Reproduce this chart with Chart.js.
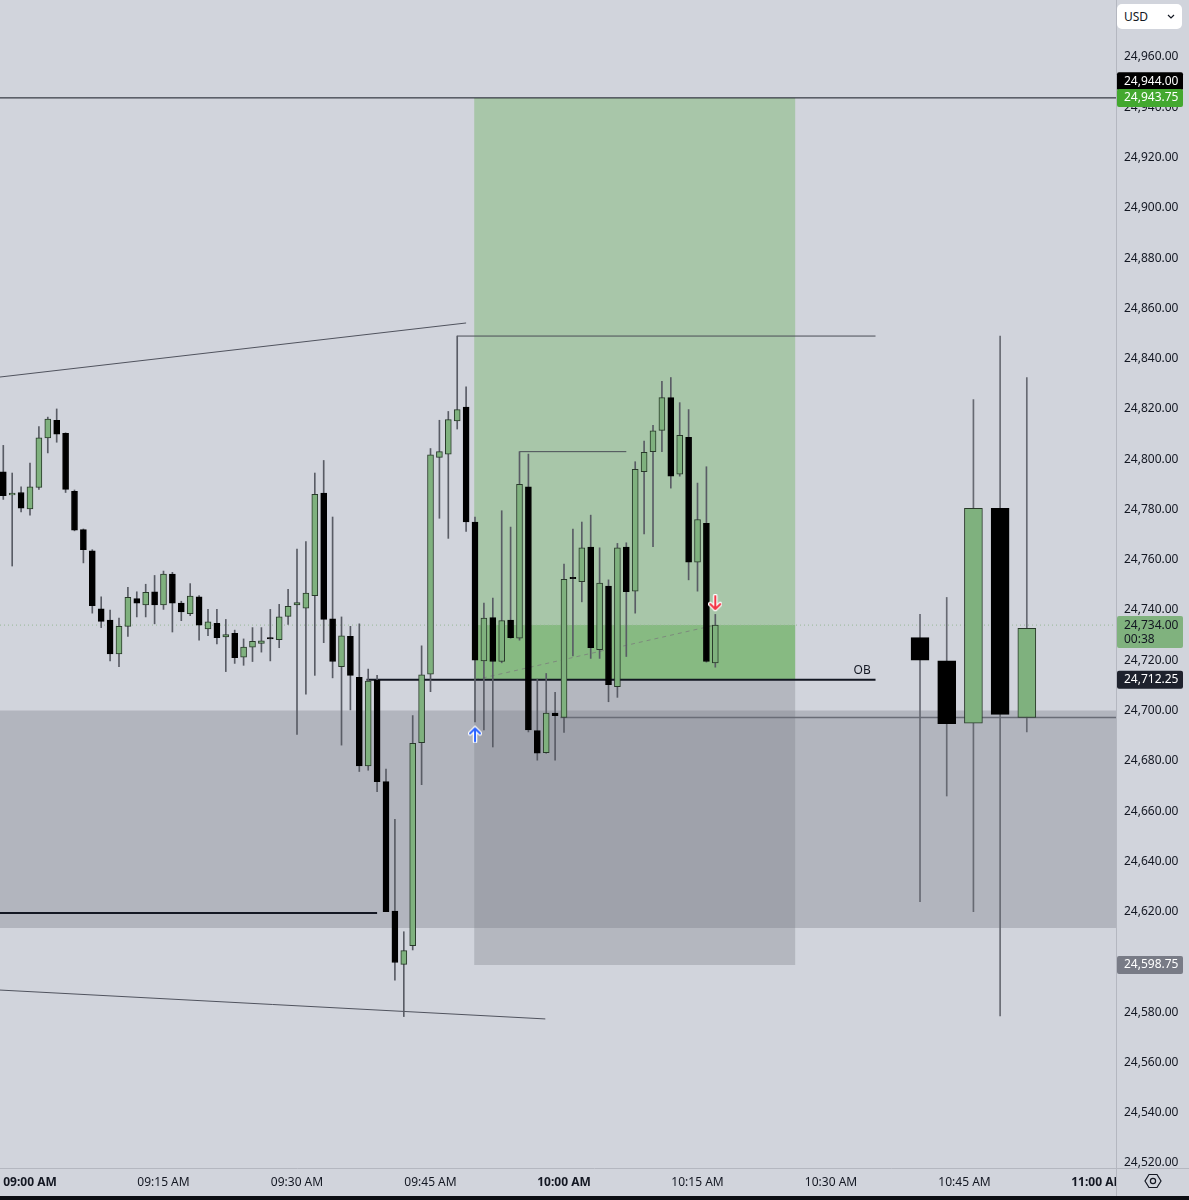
<!DOCTYPE html>
<html>
<head>
<meta charset="utf-8">
<script src="https://cdn.jsdelivr.net/npm/chart.js@4.4.1/dist/chart.umd.min.js"></script>
<style>
  html, body { margin: 0; padding: 0; background: #d1d4dc; overflow: hidden; }
  #wrap { position: relative; width: 1189px; height: 1200px; }
  #myGraph { display: block; }
  #usd { position: absolute; left: 1117px; top: 4px; width: 65px; height: 25px; background: #fff; border-radius: 5px;
         font: 12px 'Noto Sans', sans-serif; color: #131722; box-sizing: border-box; padding: 4px 0 0 7px; }
  #usd svg { position: absolute; right: 7px; top: 10px; }
  #gear { position: absolute; left: 1144px; top: 1172px; }
  #strip { position: absolute; left: 0; bottom: 0; width: 100%; height: 4px; background: #0c0e13; }
</style>
</head>
<body>
<div id="wrap">
  <canvas id="myGraph" width="1189" height="1200"></canvas>
  <div id="usd">USD<svg width="8" height="5" viewBox="0 0 8 5"><path d="M1 1 L4 4 L7 1" fill="none" stroke="#131722" stroke-width="1.2"/></svg></div>
  <svg id="gear" width="18" height="18" viewBox="0 0 18 18">
    <path d="M5 2.5 H13 L17 9 L13 15.5 H5 L1 9 Z" fill="none" stroke="#131722" stroke-width="1.2"/>
    <circle cx="9" cy="9" r="2.6" fill="none" stroke="#131722" stroke-width="1.2"/>
  </svg>
  <div id="strip"></div>
</div>
<script>
// 1 minute candles, x = minutes after 09:00
const minutes = [-3, -2, -1, 0, 1, 2, 3, 4, 5, 6, 7, 8, 9, 10, 11, 12, 13, 14, 15, 16,
  17, 18, 19, 20, 21, 22, 23, 24, 25, 26, 27, 28, 29, 30, 31, 32, 33, 34, 35, 36,
  37, 38, 39, 40, 41, 42, 43, 44, 45, 46, 47, 48, 49, 50, 51, 52, 53, 54, 55, 56,
  57, 58, 59, 60, 61, 62, 63, 64, 65, 66, 67, 68, 69, 70, 71, 72, 73, 74, 75, 76, 77];

const opens = [24795, 24785.75, 24786.75, 24780.25, 24788.75, 24808.5, 24815.5, 24810.25, 24787.25, 24772,
  24763.5, 24740.5, 24736, 24722.5, 24733.5, 24744.5, 24742, 24747.25, 24742, 24754.25,
  24742.75, 24738.5, 24745.25, 24732.5, 24734.75, 24729.25, 24730.75, 24721.25, 24725.25, 24726.75,
  24729, 24728.25, 24737.5, 24742, 24740.75, 24745.75, 24786.5, 24736.5, 24717.5, 24729.5,
  24713.25, 24678, 24712, 24671.75, 24620.25, 24599, 24606.5, 24687.25, 24714.5, 24800.75,
  24802, 24815.25, 24820.75, 24775, 24719.75, 24737, 24719.5, 24736, 24728.75, 24789,
  24692, 24683.25, 24699, 24697.25, 24753, 24751.25, 24765, 24724.25, 24749.5, 24709.5,
  24765, 24747.5, 24795, 24803, 24811.5, 24824.5, 24794, 24808.75, 24759, 24774.5, 24719];

const highs = [24805.5, 24794.5, 24789, 24798.5, 24813, 24816.75, 24820, 24810.5, 24787.75, 24772.25,
  24764, 24745.25, 24740, 24736.75, 24749, 24747.25, 24750.25, 24753.75, 24755.5, 24755,
  24743.5, 24750.5, 24745.75, 24740.25, 24740.25, 24736.25, 24732, 24728.5, 24733, 24733,
  24740.25, 24742.25, 24748.25, 24764.25, 24767.25, 24794.5, 24799.5, 24777, 24737.25, 24733.5,
  24734.5, 24716.5, 24714, 24676.75, 24656.75, 24612, 24698, 24725.75, 24804.25, 24815.5,
  24819, 24849, 24828.75, 24777, 24742.75, 24744.75, 24779.5, 24773, 24803, 24802,
  24712.5, 24714.75, 24707.25, 24758.25, 24772.25, 24775, 24777.75, 24764.75, 24752, 24766.5,
  24766.75, 24799, 24807.25, 24813.5, 24831, 24832.5, 24822.5, 24819.75, 24790.5, 24797, 24738.25];

const lows = [24784, 24757.5, 24779, 24777.75, 24788, 24802.5, 24806.75, 24786.75, 24771.5, 24758.75,
  24738.75, 24733, 24719.75, 24717.5, 24729.5, 24737.25, 24737.25, 24734.5, 24740.25, 24731.25,
  24735.75, 24737.75, 24728, 24729.75, 24726.5, 24715.5, 24718.75, 24718, 24719.5, 24723.25,
  24719.75, 24725, 24734.25, 24690.5, 24706.5, 24714, 24727, 24713, 24686.25, 24700.25,
  24675.75, 24676.25, 24667.75, 24620, 24592.75, 24578.25, 24604.75, 24670.5, 24707.5, 24776.5,
  24768.5, 24812, 24771.25, 24695.5, 24692.25, 24685.5, 24719, 24728.75, 24728, 24691.5,
  24680.25, 24683, 24680.25, 24691.25, 24721.75, 24743.25, 24720.75, 24720.75, 24703.5, 24705.25,
  24721.5, 24738.75, 24770.25, 24765.25, 24803, 24788.5, 24793.25, 24752, 24747.5, 24719.25, 24717.25];

const closes = [24785.5, 24786.5, 24780.5, 24789, 24808.5, 24816, 24810, 24788, 24771.75, 24764,
  24741.75, 24735.5, 24722.5, 24733.5, 24745, 24742.75, 24747, 24742, 24754.25, 24742.75,
  24739.25, 24745.5, 24734, 24735.25, 24729, 24730.25, 24721, 24725.25, 24727.5, 24727.75,
  24728.5, 24737.25, 24741.5, 24743, 24746.75, 24786, 24736.25, 24719.5, 24729.75, 24714,
  24678, 24711.75, 24671.75, 24620, 24599.75, 24604.5, 24687, 24714.25, 24801.75, 24803,
  24815.75, 24819.75, 24775, 24720, 24736.75, 24719.5, 24735.75, 24729, 24790, 24692.25,
  24683, 24699, 24698, 24752.25, 24752.5, 24764.75, 24725, 24750.75, 24710.25, 24764.75,
  24747.25, 24796, 24802.75, 24811.25, 24824.5, 24793.25, 24809.5, 24759, 24776, 24719.5, 24734];

// higher timeframe candles shown on the right
const htfMinutes = [100, 103, 106, 109, 112];
const htfOpens = [24729, 24719.75, 24695, 24780.5, 24697.25];
const htfHighs = [24738.25, 24745, 24823.75, 24849, 24832.5];
const htfLows = [24624, 24666, 24620, 24578.5, 24691.5];
const htfCloses = [24720, 24694.75, 24780.5, 24698.5, 24732.75];

// tick labels
const timeTicks = [0, 15, 30, 45, 60, 75, 90, 105, 120];
const timeLabels = ['09:00 AM', '09:15 AM', '09:30 AM', '09:45 AM', '10:00 AM', '10:15 AM', '10:30 AM', '10:45 AM', '11:00 AM'];
const priceTickMax = 24960;

// levels
const target = 24943.75, entry = 24712.25, stop = 24598.75, lastPrice = 24734;
const bandTop = 24700, bandBottom = 24613.5;
const positionFrom = 49.9, positionTo = 86;
const xMin = -3.37, xMax = 122.02, yMin = 24518, yMax = 24982.7;

const GREEN = '#7fb17e', BLACK = '#000000', WICK = '#595c65';

function candleColors(o, c) { return o.map((v, i) => c[i] >= v ? GREEN : BLACK); }
function borderColors(o, c) { return o.map((v, i) => c[i] >= v ? '#28392a' : BLACK); }

function arrowIcon(color, up) {
  const c = document.createElement('canvas');
  c.width = 14; c.height = 18;
  const g = c.getContext('2d');
  if (!up) { g.translate(0, 18); g.scale(1, -1); }
  const path = () => { g.beginPath(); g.moveTo(7, 16); g.lineTo(7, 3); g.moveTo(2, 8); g.lineTo(7, 3); g.lineTo(12, 8); };
  g.lineCap = 'round'; g.lineJoin = 'round';
  path(); g.strokeStyle = '#ffffff'; g.lineWidth = 4.5; g.stroke();
  path(); g.strokeStyle = color; g.lineWidth = 2; g.stroke();
  return c;
}

function seg(x1, y1, x2, y2, color, width, dash) {
  return {
    type: 'line', data: [{ x: x1, y: y1 }, { x: x2, y: y2 }],
    borderColor: color, borderWidth: width, borderDash: dash || [],
    pointRadius: 0, fill: false, order: 3
  };
}

function box(x1, x2, top, bottom, color, order) {
  return {
    type: 'line', data: [{ x: x1, y: top }, { x: x2, y: top }],
    borderWidth: 0, borderColor: 'rgba(0,0,0,0)', pointRadius: 0,
    backgroundColor: color, fill: { value: bottom }, order: order
  };
}

const priceTags = [
  { value: 24944, shift: -16, bg: '#000000', fg: '#ffffff' },
  { value: target, shift: 0, bg: '#43a82f', fg: '#ffffff' },
  { value: lastPrice, shift: 0, bg: '#80b27e', fg: '#131722', sub: '00:38' },
  { value: entry, shift: 0, bg: '#1e222d', fg: '#ffffff' },
  { value: stop, shift: 0, bg: '#787b86', fg: '#ffffff' }
];

const fmtPrice = v => v.toLocaleString('en-US', { minimumFractionDigits: 2, maximumFractionDigits: 2 });

// no extra padding around the plot, so the plot fills the canvas up to the axes
function noPad(s) { s.paddingTop = 0; s.paddingBottom = 0; s.paddingLeft = 0; s.paddingRight = 0; }

const chrome = {
  id: 'chrome',
  beforeDraw(chart) {
    const ctx = chart.ctx;
    ctx.save();
    ctx.fillStyle = '#d1d4dc';
    ctx.fillRect(0, 0, chart.width, chart.height);
    ctx.restore();
  },
  afterDatasetsDraw(chart) {
    const ctx = chart.ctx, x = chart.scales.x, y = chart.scales.y;
    ctx.save();
    ctx.font = '12px "Noto Sans", sans-serif';
    ctx.fillStyle = '#131722';
    ctx.textAlign = 'center';
    ctx.textBaseline = 'middle';
    ctx.fillText('OB', x.getPixelForValue(93.5), y.getPixelForValue(24716));
    ctx.restore();
  },
  afterDraw(chart) {
    const ctx = chart.ctx, y = chart.scales.y, a = chart.chartArea;
    ctx.save();
    // corner under the price axis
    ctx.fillStyle = '#d1d4dc';
    ctx.fillRect(a.right, a.bottom, chart.width - a.right, chart.height - a.bottom);
    ctx.strokeStyle = '#b4b7c0';
    ctx.lineWidth = 1;
    ctx.beginPath();
    ctx.moveTo(a.right + 0.5, 0); ctx.lineTo(a.right + 0.5, chart.height);
    ctx.moveTo(0, a.bottom + 0.5); ctx.lineTo(chart.width, a.bottom + 0.5);
    ctx.stroke();
    // price tags
    ctx.font = '12px "Noto Sans", sans-serif';
    ctx.textBaseline = 'middle';
    ctx.textAlign = 'left';
    priceTags.forEach(t => {
      const cy = y.getPixelForValue(t.value) + t.shift;
      const h = t.sub ? 32 : 18;
      ctx.fillStyle = t.bg;
      ctx.beginPath();
      ctx.roundRect(a.right + 1, cy - 9, 66, h, 2);
      ctx.fill();
      ctx.fillStyle = t.fg;
      ctx.fillText(fmtPrice(t.value), a.right + 8, cy);
      if (t.sub) ctx.fillText(t.sub, a.right + 8, cy + 14);
    });
    ctx.restore();
  }
};

const graph = document.getElementById('myGraph');

new Chart(graph, {
  type: 'bar',
  data: {
    datasets: [
      {
        label: 'bodies',
        data: minutes.map((m, i) => ({ x: m, y: [opens[i], closes[i]] })),
        backgroundColor: candleColors(opens, closes),
        borderColor: borderColors(opens, closes),
        borderWidth: 1, borderSkipped: false, barThickness: 6, minBarLength: 1,
        grouped: false, order: 1
      },
      {
        label: 'wicks',
        data: minutes.map((m, i) => ({ x: m, y: [lows[i], highs[i]] })),
        backgroundColor: WICK, borderWidth: 0, barThickness: 1, grouped: false, order: 2
      },
      {
        label: 'htf bodies',
        data: htfMinutes.map((m, i) => ({ x: m, y: [htfOpens[i], htfCloses[i]] })),
        backgroundColor: candleColors(htfOpens, htfCloses),
        borderColor: borderColors(htfOpens, htfCloses),
        borderWidth: 1, borderSkipped: false, barThickness: 18, grouped: false, order: 1
      },
      {
        label: 'htf wicks',
        data: htfMinutes.map((m, i) => ({ x: m, y: [htfLows[i], htfHighs[i]] })),
        backgroundColor: '#676a73', borderWidth: 0, barThickness: 1, grouped: false, order: 2
      },
      {
        type: 'scatter', label: 'long signal',
        data: [{ x: 50, y: 24690.5 }],
        pointStyle: arrowIcon('#2962ff', true), order: 0
      },
      {
        type: 'scatter', label: 'exit signal',
        data: [{ x: 77, y: 24742.75 }],
        pointStyle: arrowIcon('#f23645', false), order: 0
      },
      // drawings
      seg(xMin, target, xMax, target, '#131722', 1),
      seg(xMin, 24832.7, 49, 24854.2, '#50535e', 1),
      seg(xMin, 24588.8, 57.9, 24577.3, '#50535e', 1),
      seg(xMin, 24619.5, 39, 24619.5, '#131722', 2),
      seg(37.8, entry, 95, entry, '#131722', 2),
      seg(48, 24849, 95, 24849, '#4a4d56', 1),
      seg(55, 24803, 67, 24803, '#4a4d56', 1),
      seg(59.6, 24697.25, xMax, 24697.25, '#6a6d77', 1.5),
      seg(50, entry, 77, lastPrice, '#7d8a7d', 1, [4, 4]),
      seg(xMin, lastPrice, xMax, lastPrice, '#98b896', 1, [1, 3]),
      // zones
      box(positionFrom, positionTo, lastPrice, entry, 'rgba(60,160,40,0.30)', 6),
      box(positionFrom, positionTo, target, entry, 'rgba(60,160,40,0.28)', 7),
      box(positionFrom, positionTo, entry, stop, 'rgba(120,123,134,0.33)', 8),
      box(xMin, xMax, bandTop, bandBottom, 'rgba(120,123,134,0.35)', 9)
    ]
  },
  options: {
    responsive: false,
    animation: false,
    devicePixelRatio: 1,
    layout: { padding: 0, autoPadding: false },
    plugins: { legend: { display: false }, tooltip: { enabled: false } },
    scales: {
      x: {
        type: 'linear', min: xMin, max: xMax, offset: false,
        grid: { display: false, offset: false, drawTicks: false }, border: { display: false },
        afterFit: s => { s.height = 32; noPad(s); },
        ticks: {
          stepSize: 15, includeBounds: false, autoSkip: false, maxRotation: 0, padding: 7,
          color: '#131722',
          font: c => ({ family: '"Noto Sans", sans-serif', size: 12, weight: c.tick && c.tick.value % 60 === 0 ? 'bold' : 'normal' }),
          callback: v => { const i = timeTicks.indexOf(v); return i < 0 ? '' : timeLabels[i]; }
        }
      },
      y: {
        position: 'right', min: yMin, max: yMax,
        grid: { display: false, drawTicks: false }, border: { display: false },
        afterFit: s => { s.width = 73; noPad(s); },
        ticks: {
          stepSize: 20, includeBounds: false, autoSkip: false, padding: 8,
          color: '#131722', font: { family: '"Noto Sans", sans-serif', size: 12 },
          callback: v => v > priceTickMax ? '' : fmtPrice(v)
        }
      }
    }
  },
  plugins: [chrome]
});
</script>
</body>
</html>
